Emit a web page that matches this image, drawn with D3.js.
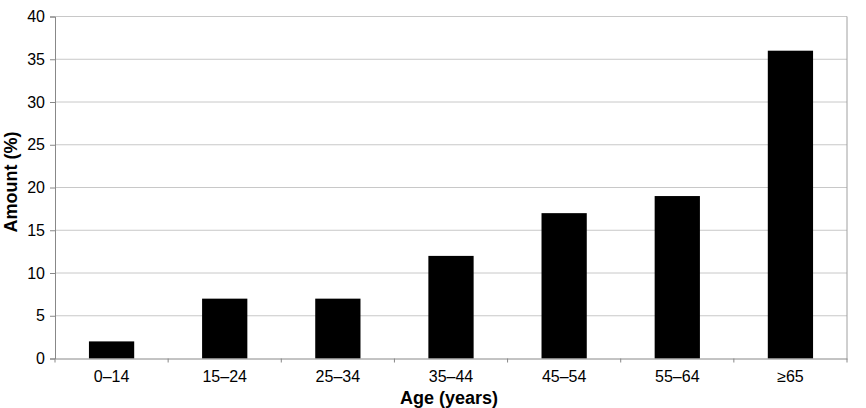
<!DOCTYPE html>
<html><head><meta charset="utf-8">
<script src="https://cdn.jsdelivr.net/npm/d3@7"></script>
<style>body{margin:0;background:#fff}svg{display:block}text{font-family:Arial,"Liberation Sans",sans-serif}</style>
</head><body>
<script>
const categories = ["0–14","15–24","25–34","35–44","45–54","55–64","≥65"];
const values = [2,7,7,12,17,19,36];
const yTicks = [0,5,10,15,20,25,30,35,40];

const W=866,H=408, m={l:55,t:16.5,r:19,b:49.5};
const svg=d3.select("body").append("svg").attr("width",W).attr("height",H);
const x=d3.scaleBand().domain(categories).range([m.l,W-m.r]).paddingInner(0.6).paddingOuter(0.3);
const xb=d3.scaleBand().domain(categories).range([m.l,W-m.r]);
const y=d3.scaleLinear().domain([0,40]).range([H-m.b,m.t]);

// gridlines
svg.append("g").selectAll("line").data(yTicks.slice(1)).join("line")
 .attr("x1",m.l).attr("x2",W-m.r).attr("y1",d=>y(d)).attr("y2",d=>y(d))
 .attr("stroke","#c8c8c8").attr("stroke-width",1);
// frame right
svg.append("line").attr("x1",W-m.r).attr("x2",W-m.r).attr("y1",m.t).attr("y2",H-m.b).attr("stroke","#a0a0a0");

// bars
svg.append("g").selectAll("rect").data(values).join("rect")
 .attr("x",(d,i)=>x(categories[i])).attr("width",x.bandwidth())
 .attr("y",d=>y(d)).attr("height",d=>y(0)-y(d)).attr("fill","#000");

// y axis
const ya=svg.append("g").attr("transform",`translate(${m.l},0)`)
 .call(d3.axisLeft(y).tickValues(yTicks).tickSize(5).tickPadding(5));
ya.select(".domain").attr("stroke","#888");
ya.selectAll(".tick line").attr("stroke","#888");
ya.selectAll("text").attr("font-size",16).attr("fill","#000").attr("font-family","Arial, Liberation Sans, sans-serif");

// x axis
const xa=svg.append("g").attr("transform",`translate(0,${H-m.b})`)
 .call(d3.axisBottom(xb).tickSize(0).tickPadding(12));
xa.select(".domain").attr("stroke","#888");
xa.selectAll("text").attr("font-size",16).attr("fill","#000").attr("font-family","Arial, Liberation Sans, sans-serif");
svg.append("g").selectAll("line").data(categories).join("line")
 .attr("x1",d=>xb(d)).attr("x2",d=>xb(d)).attr("y1",H-m.b).attr("y2",H-m.b+4)
 .attr("stroke","#888");
svg.append("line").attr("x1",W-m.r).attr("x2",W-m.r).attr("y1",H-m.b).attr("y2",H-m.b+4).attr("stroke","#888");

// titles
svg.append("text").attr("x",449).attr("y",403.5).attr("text-anchor","middle")
 .attr("font-size",18).attr("font-weight","bold").text("Age (years)");
svg.append("text").attr("transform",`translate(16.5,182) rotate(-90)`).attr("text-anchor","middle")
 .attr("font-size",18).attr("font-weight","bold").text("Amount (%)");
</script>
</body></html>
